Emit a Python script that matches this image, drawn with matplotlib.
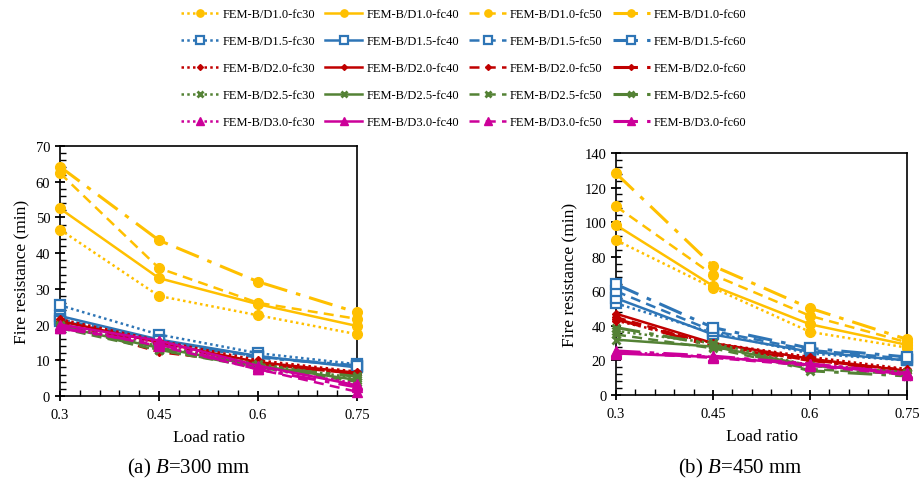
import matplotlib
matplotlib.use("Agg")
import matplotlib.pyplot as plt
from matplotlib.ticker import MultipleLocator

plt.rcParams['font.family'] = ['Liberation Serif', 'DejaVu Serif']
plt.rcParams['mathtext.fontset'] = 'custom'
plt.rcParams['mathtext.rm'] = 'Liberation Serif'
plt.rcParams['mathtext.it'] = 'Liberation Serif:italic'

load_ratio = [0.3, 0.45, 0.6, 0.75]
ratios = ["1.0", "1.5", "2.0", "2.5", "3.0"]
grades = ["fc30", "fc40", "fc50", "fc60"]

# (a) B=300 mm : fire resistance (min) [ratio][grade]
b300 = {
    "1.0": {"fc30": [46.6, 28.0, 22.6, 17.3], "fc40": [52.5, 33.0, 25.7, 19.6],
            "fc50": [62.4, 35.8, 26.1, 21.6], "fc60": [64.2, 43.6, 32.0, 23.4]},
    "1.5": {"fc30": [25.4, 17.2, 12.0, 8.9], "fc40": [22.4, 15.8, 11.2, 8.0],
            "fc50": [21.5, 15.5, 11.0, 8.3], "fc60": [21.0, 15.3, 10.8, 8.5]},
    "2.0": {"fc30": [21.5, 15.5, 10.0, 6.8], "fc40": [21.0, 15.0, 9.5, 6.5],
            "fc50": [20.5, 12.3, 9.0, 6.2], "fc60": [20.0, 14.5, 9.2, 6.0]},
    "2.5": {"fc30": [20.0, 14.0, 9.0, 5.0], "fc40": [19.5, 13.5, 8.5, 4.5],
            "fc50": [19.0, 12.8, 8.0, 4.0], "fc60": [19.5, 13.0, 8.2, 5.5]},
    "3.0": {"fc30": [19.0, 15.0, 8.0, 3.5], "fc40": [20.0, 15.5, 8.5, 3.0],
            "fc50": [19.5, 14.0, 7.5, 1.2], "fc60": [19.0, 14.5, 7.5, 2.5]},
}

# (b) B=450 mm
b450 = {
    "1.0": {"fc30": [89.6, 62.0, 36.5, 27.4], "fc40": [98.3, 63.1, 40.9, 29.0],
            "fc50": [109.1, 69.5, 45.8, 30.5], "fc60": [128.2, 74.7, 50.2, 32.2]},
    "1.5": {"fc30": [53.0, 36.0, 24.0, 20.0], "fc40": [56.0, 35.0, 25.0, 20.0],
            "fc50": [60.0, 37.0, 26.0, 21.0], "fc60": [64.0, 39.0, 27.0, 22.0]},
    "2.0": {"fc30": [43.0, 30.0, 22.0, 15.0], "fc40": [47.0, 30.0, 21.0, 14.0],
            "fc50": [45.0, 29.0, 20.0, 14.5], "fc60": [44.0, 28.0, 20.0, 13.5]},
    "2.5": {"fc30": [37.0, 30.0, 17.0, 13.0], "fc40": [32.0, 28.0, 17.0, 13.0],
            "fc50": [35.0, 27.0, 15.0, 12.0], "fc60": [39.0, 29.0, 14.0, 11.0]},
    "3.0": {"fc30": [25.0, 22.0, 18.0, 13.0], "fc40": [24.0, 22.0, 17.5, 12.0],
            "fc50": [24.5, 21.5, 17.0, 11.5], "fc60": [25.5, 22.5, 18.0, 12.5]},
}

colors = {"1.0": "#FFC000", "1.5": "#2E75B6", "2.0": "#C00000",
          "2.5": "#548235", "3.0": "#CC0099"}
markers = {"1.0": dict(marker="o", ms=7, mfc="#FFC000", mec="#FFC000"),
           "1.5": dict(marker="s", ms=7, mfc="white", mec="#2E75B6", mew=1.6),
           "2.0": dict(marker="D", ms=4, mfc="#C00000", mec="#C00000"),
           "2.5": dict(marker="x", ms=6, mec="#548235", mew=2),
           "3.0": dict(marker="^", ms=7, mfc="#CC0099", mec="#CC0099")}
styles = {"fc30": (0, (1, 1.3)), "fc40": "-", "fc50": (0, (4, 2.5)),
          "fc60": (0, (8, 3, 1.5, 3))}
widths = {"fc30": 1.8, "fc40": 1.8, "fc50": 1.8, "fc60": 2.2}

fig = plt.figure(figsize=(9.24, 4.89), dpi=100)
axA = fig.add_axes([0.0649, 0.1881, 0.3215, 0.5113])
axB = fig.add_axes([0.6667, 0.1902, 0.3149, 0.4949])

handles = {}
for ax, data in ((axA, b300), (axB, b450)):
    for r in ratios:
        for g in grades:
            ln, = ax.plot(load_ratio, data[r][g], color=colors[r], ls=styles[g],
                          lw=widths[g], clip_on=False, zorder=3,
                          label=f"FEM-B/D{r}-{g}", **markers[r])
            handles[(r, g)] = ln

for ax, ymax, maj, mn in ((axA, 70, 10, 2), (axB, 140, 20, 4)):
    ax.set_xlim(0.3, 0.75)
    ax.set_ylim(0, ymax)
    ax.set_xticks(load_ratio)
    ax.set_xticklabels(["0.3", "0.45", "0.6", "0.75"])
    ax.xaxis.set_minor_locator(MultipleLocator(0.03))
    ax.yaxis.set_major_locator(MultipleLocator(maj))
    ax.yaxis.set_minor_locator(MultipleLocator(mn))
    ax.tick_params(which="major", direction="inout", length=7, width=1.3,
                   labelsize=10.5, top=False, right=False)
    ax.tick_params(which="minor", direction="in", length=4, width=1.0,
                   top=False, right=False)
    ax.tick_params(axis="x", pad=5)
    for s in ax.spines.values():
        s.set_linewidth(1.2)
        s.set_color("black")
    ax.set_xlabel("Load ratio", fontsize=12.5, labelpad=6)
    ax.set_ylabel("Fire resistance (min)", fontsize=12.5, labelpad=4)

fig.text(0.2045, 0.042, "(a) $\\it{B}$=300 mm", ha="center", va="center", fontsize=15)
fig.text(0.801, 0.042, "(b) $\\it{B}$=450 mm", ha="center", va="center", fontsize=15)

order = [handles[(r, g)] for g in grades for r in ratios]
fig.legend(order, [h.get_label() for h in order], ncol=4, fontsize=9,
           loc="upper center", bbox_to_anchor=(0.502, 1.004), frameon=False,
           handlelength=3.0, handletextpad=0.3, columnspacing=0.8,
           labelspacing=1.2, markerscale=0.75)

fig.savefig("out.png", dpi=100)
